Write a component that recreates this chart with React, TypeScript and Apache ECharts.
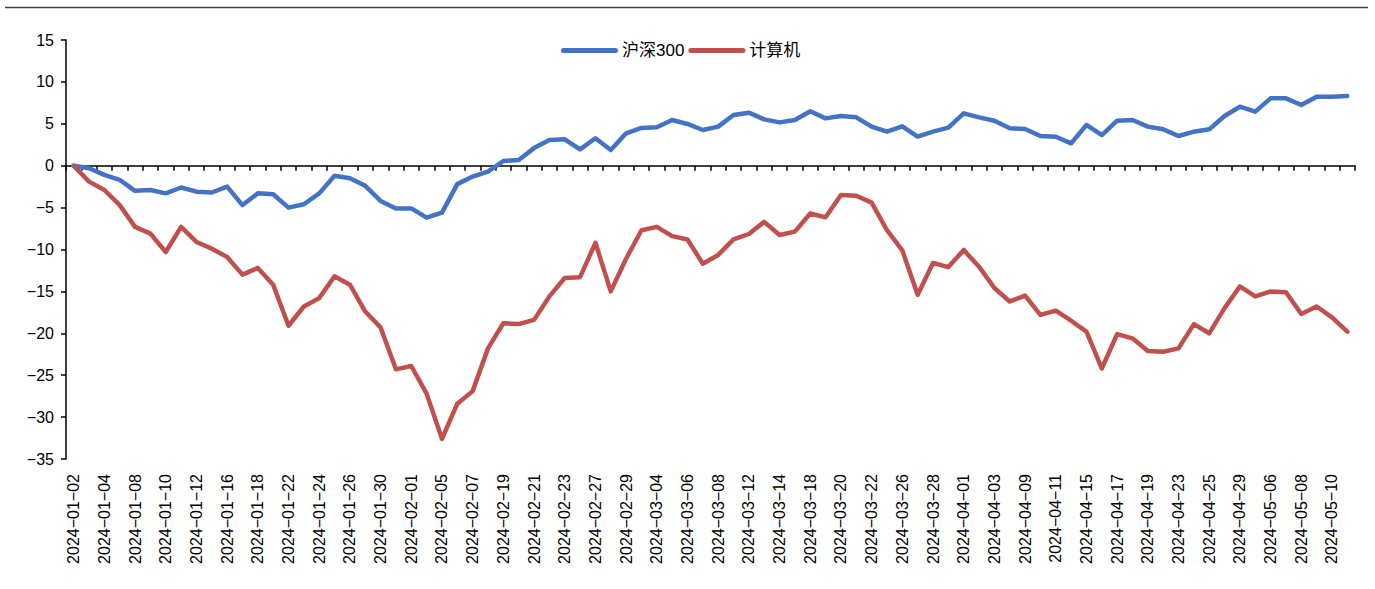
import React, { useEffect, useRef } from "react";
import * as echarts from "echarts";

const dates: string[] = [
  "2024-01-02","2024-01-03","2024-01-04","2024-01-05","2024-01-08","2024-01-09","2024-01-10","2024-01-11","2024-01-12","2024-01-15",
  "2024-01-16","2024-01-17","2024-01-18","2024-01-19","2024-01-22","2024-01-23","2024-01-24","2024-01-25","2024-01-26","2024-01-29",
  "2024-01-30","2024-01-31","2024-02-01","2024-02-02","2024-02-05","2024-02-06","2024-02-07","2024-02-08","2024-02-19","2024-02-20",
  "2024-02-21","2024-02-22","2024-02-23","2024-02-26","2024-02-27","2024-02-28","2024-02-29","2024-03-01","2024-03-04","2024-03-05",
  "2024-03-06","2024-03-07","2024-03-08","2024-03-11","2024-03-12","2024-03-13","2024-03-14","2024-03-15","2024-03-18","2024-03-19",
  "2024-03-20","2024-03-21","2024-03-22","2024-03-25","2024-03-26","2024-03-27","2024-03-28","2024-03-29","2024-04-01","2024-04-02",
  "2024-04-03","2024-04-08","2024-04-09","2024-04-10","2024-04-11","2024-04-12","2024-04-15","2024-04-16","2024-04-17","2024-04-18",
  "2024-04-19","2024-04-22","2024-04-23","2024-04-24","2024-04-25","2024-04-26","2024-04-29","2024-04-30","2024-05-06","2024-05-07",
  "2024-05-08","2024-05-09","2024-05-10","2024-05-13"
];

const hs300: number[] = [
  0, -0.3, -1.1, -1.7, -3.0, -2.9, -3.3, -2.6, -3.1, -3.2,
  -2.5, -4.7, -3.3, -3.4, -5.0, -4.6, -3.3, -1.2, -1.5, -2.4,
  -4.2, -5.1, -5.1, -6.2, -5.6, -2.2, -1.3, -0.7, 0.56, 0.68,
  2.1, 3.07, 3.15, 1.95, 3.27, 1.87, 3.87, 4.5, 4.58, 5.45,
  4.98, 4.26, 4.66, 6.05, 6.33, 5.53, 5.17, 5.45, 6.5, 5.65,
  5.93, 5.77, 4.66, 4.06, 4.7, 3.46, 4.06, 4.54, 6.25, 5.77,
  5.37, 4.46, 4.38, 3.54, 3.46, 2.67, 4.86, 3.66, 5.37, 5.45,
  4.66, 4.34, 3.54, 4.06, 4.34, 5.93, 7.04, 6.45, 8.04, 8.04,
  7.24, 8.23, 8.23, 8.32
];

const computer: number[] = [
  0, -1.9, -2.9, -4.7, -7.3, -8.1, -10.3, -7.3, -9.1, -9.9,
  -10.9, -13.0, -12.2, -14.2, -19.1, -16.8, -15.8, -13.2, -14.2, -17.4,
  -19.3, -24.3, -23.9, -27.2, -32.6, -28.4, -26.9, -21.8, -18.8, -18.9,
  -18.4, -15.6, -13.4, -13.3, -9.2, -15.0, -11.1, -7.7, -7.3, -8.4,
  -8.8, -11.7, -10.65, -8.8, -8.15, -6.7, -8.27, -7.87, -5.7, -6.16,
  -3.5, -3.58, -4.4, -7.7, -10.1, -15.4, -11.6, -12.1, -10.06, -12.05,
  -14.6, -16.2, -15.5, -17.8, -17.3, -18.5, -19.8, -24.2, -20.1, -20.6,
  -22.1, -22.2, -21.8, -18.9, -20.0, -17.0, -14.4, -15.6, -15.0, -15.1,
  -17.7, -16.8, -18.1, -19.8
];

const seriesNames: string[] = ["沪深300", "计算机"];
const seriesColors: string[] = ["#4472C4", "#C0504D"];

const FONT = "'Liberation Sans', Arial, 'Noto Sans CJK SC', sans-serif";
const minus = (s: string) => s.replace(/-/g, "\u2212");
const PILL = "path://M2.5,0 L54.5,0 A2.5,2.5 0 0 1 54.5,5 L2.5,5 A2.5,2.5 0 0 1 2.5,0 Z";

export default function App() {
  const ref = useRef<HTMLDivElement>(null);
  useEffect(() => {
    document.body.style.margin = "0";
    if (!ref.current) return;
    const chart = echarts.init(ref.current, undefined, { renderer: "svg" });
    const lineSeries = [hs300, computer].map((d, k) => ({
      name: seriesNames[k],
      type: "line",
      data: d,
      xAxisIndex: 0,
      yAxisIndex: 0,
      symbol: "none",
      showSymbol: false,
      lineStyle: { color: seriesColors[k], width: 4.5, join: "round", cap: "round" },
      itemStyle: { color: seriesColors[k] },
    }));
    chart.setOption({
      animation: false,
      backgroundColor: "#ffffff",
      textStyle: { fontFamily: FONT },
      grid: { left: 66, right: 20, top: 40, bottom: 130, containLabel: false },
      legend: {
        left: 556,
        top: 37,
        icon: PILL,
        itemWidth: 57,
        itemHeight: 5,
        itemGap: 4,
        textStyle: { fontSize: 17, color: "#000", fontFamily: FONT, padding: [0, 0, 0, -1] },
        data: seriesNames.map((n, k) => ({ name: n, itemStyle: { color: seriesColors[k] } })),
      },
      xAxis: [
        {
          type: "category",
          data: dates,
          boundaryGap: true,
          position: "bottom",
          axisLine: { show: false, onZero: false },
          axisTick: { show: false },
          axisLabel: {
            rotate: 90,
            interval: 1,
            margin: 15,
            fontSize: 16,
            color: "#000",
            fontFamily: FONT,
            formatter: (v: string) => minus(v),
          },
          splitLine: { show: false },
        },
        {
          type: "category",
          data: dates,
          boundaryGap: true,
          position: "top",
          axisLine: { show: true, onZero: true, lineStyle: { color: "#000", width: 1.5 } },
          axisTick: { show: true, inside: true, interval: 0, length: 5, lineStyle: { color: "#000", width: 1.5 } },
          axisLabel: { show: false },
          splitLine: { show: false },
        },
      ],
      yAxis: {
        type: "value",
        min: -35,
        max: 15,
        interval: 5,
        axisLine: { show: true, onZero: false, lineStyle: { color: "#000", width: 1.5 } },
        axisTick: { show: true, length: 5, lineStyle: { color: "#000", width: 1.5 } },
        axisLabel: {
          fontSize: 16,
          margin: 12,
          color: "#000",
          fontFamily: FONT,
          formatter: (v: number) => minus(String(v)),
        },
        splitLine: { show: false },
      },
      graphic: [
        {
          type: "line",
          shape: { x1: 5, y1: 7.5, x2: 1368, y2: 7.5 },
          style: { stroke: "#404040", lineWidth: 1.5 },
          silent: true,
        },
      ],
      series: lineSeries,
    });
    return () => chart.dispose();
  }, []);
  return <div ref={ref} style={{ width: 1375, height: 589 }} />;
}
